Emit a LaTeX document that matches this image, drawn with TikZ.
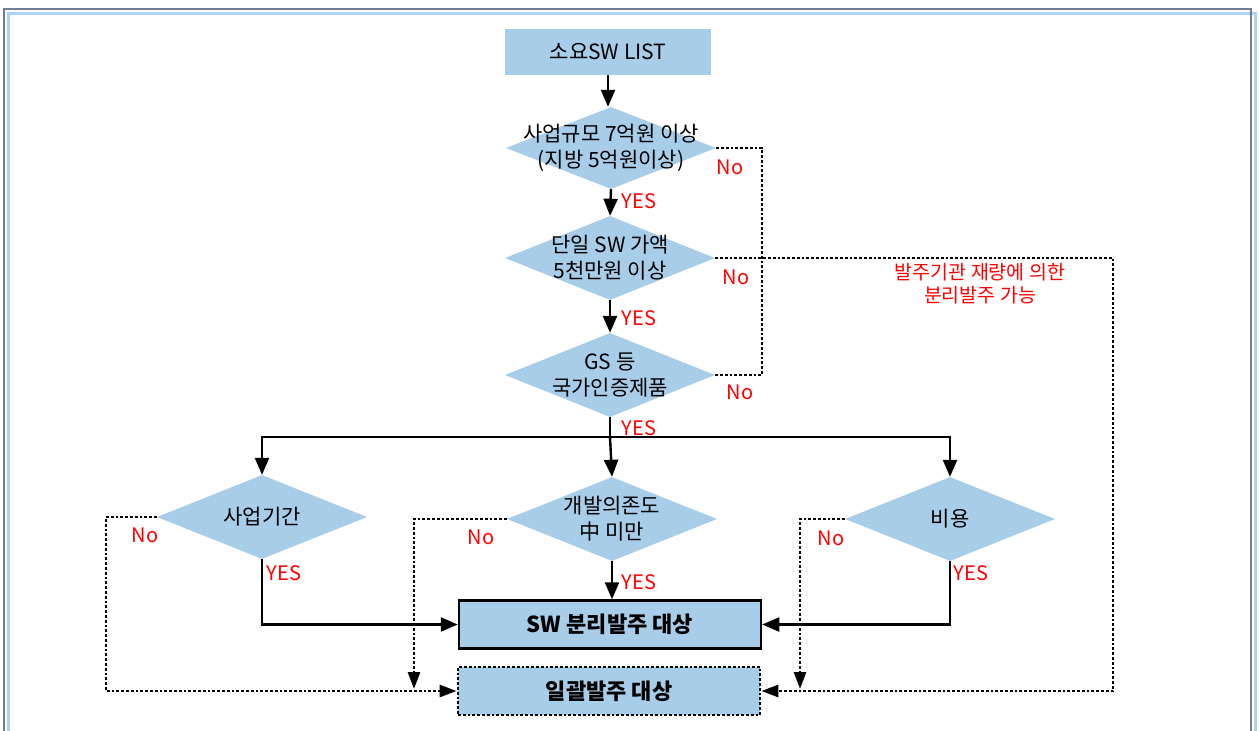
\documentclass[tikz,border=0pt]{standalone}
\usepackage{fontspec}
\setmainfont{Noto Sans CJK KR}
\usetikzlibrary{shapes.geometric,arrows.meta}
\definecolor{boxblue}{RGB}{167,205,233}
\definecolor{framedark}{RGB}{110,127,149}
\definecolor{framelight}{RGB}{170,210,250}
\definecolor{lblred}{RGB}{255,0,0}
\tikzset{
  dia/.style={shape=diamond, fill=boxblue, draw=none, inner sep=0pt, minimum width=210pt, minimum height=84pt},
  dtext/.style={align=center, font=\fontsize{21}{26}\selectfont, inner sep=0pt},
  lbl/.style={text=lblred, font=\fontsize{20}{22}\selectfont, inner sep=0pt},
  arr/.style={line width=2.4pt, -{Triangle[length=17pt,width=14pt]}},
  sline/.style={line width=2.4pt},
  dotl/.style={line width=2.8pt, dash pattern=on 2.8pt off 2pt},
  dotarr/.style={line width=2.8pt, dash pattern=on 2.8pt off 2pt, -{Triangle[length=17pt,width=12pt]}},
}
\begin{document}
\begin{tikzpicture}[x=1pt,y=-1pt]
\useasboundingbox (0,0) rectangle (1259,731);
% frame
\draw[framelight, line width=3pt] (8,731) -- (8,13) -- (1255,13) -- (1255,731);
\draw[framedark, line width=2.5pt] (4,731) -- (4,9) -- (1251,9) -- (1251,731);

% top box
\node[fill=boxblue, minimum width=206pt, minimum height=46pt, inner sep=0pt, font=\fontsize{21}{24}\selectfont] (top) at (608,52) {소요SW LIST};

% main diamonds
\node[dia, minimum height=82pt] (d1) at (611,148) {};
\node[dtext] (t1) at (d1) {사업규모 7억원 이상\\(지방 5억원이상)};
\node[dia] (d2) at (610,258) {};
\node[dtext] (t2) at (d2) {단일 SW 가액\\5천만원 이상};
\node[dia] (d3) at (610,375) {};
\node[dtext] (t3) at (d3) {GS 등\\국가인증제품};

% bottom diamonds
\node[dia] (s1) at (262,517) {};
\node[dtext] (u1) at (s1) {사업기간};
\node[dia] (s2) at (612,519) {};
\node[dtext] (u2) at (s2) {개발의존도\\中 미만};
\node[dia] (s3) at (950,519) {};
\node[dtext] (u3) at (s3) {비용};

% result boxes
\node[fill=boxblue, draw=black, line width=2.5pt, minimum width=302pt, minimum height=48pt, inner sep=0pt, font=\fontsize{22}{24}\selectfont\bfseries] (sw) at (610,624.5) {SW 분리발주 대상};
\node[fill=boxblue, draw=black, dotl, minimum width=302pt, minimum height=48pt, inner sep=0pt, font=\fontsize{22}{24}\selectfont\bfseries] (il) at (609,691) {일괄발주 대상};

% coordinates
\coordinate (jn) at (610,437);
\coordinate (c2) at (414,689);
\coordinate (c3) at (800,689);
\coordinate (c4) at (1113,691);
\coordinate (c5) at (762,375);
\coordinate (c1) at (106,517);

% solid connectors
\draw[arr] (top.south) -- (top.south |- d1.north);
\draw[arr] (d1.south) -- (d2.north);
\draw[arr] (d2.south) -- (d3.north);
\draw[sline] (d3.south) -- (jn);
\draw[arr] (jn) -| (s1.north);
\draw[arr] (jn) -| (s3.north);
\draw[arr] (jn) -- (s2.north);
\draw[arr] (s1.south) |- (sw.west);
\draw[arr] (s3.south) |- (sw.east);
\draw[arr] (s2.south) -- (s2.south |- sw.north);

% dotted connectors
\draw[dotl] (d1.east) -| (c5) -- (d3.east);
\draw[dotarr] (d2.east) -| (c4) -- (il.east);
\draw[dotarr] (s1.west) -- (c1) |- (il.west);
\draw[dotarr] (s2.west) -| (c2);
\draw[dotarr] (s3.west) -| (c3);

% labels
\node[lbl] (n1) at (730,167) {No};
\node[lbl] (n2) at (736,277) {No};
\node[lbl] (n3) at (740,392) {No};
\node[lbl] (y1) at (639,201) {YES};
\node[lbl] (y2) at (639,318) {YES};
\node[lbl] (y3) at (639,428) {YES};
\node[lbl] (n4) at (145,535) {No};
\node[lbl] (n5) at (481,537) {No};
\node[lbl] (n6) at (831,538) {No};
\node[lbl] (y4) at (284,573) {YES};
\node[lbl] (y5) at (639,582) {YES};
\node[lbl] (y6) at (971,573) {YES};
\node[lbl, align=center, font=\fontsize{19.5}{23}\selectfont] (note) at (980,284) {발주기관 재량에 의한\\분리발주 가능};
\end{tikzpicture}
\end{document}
